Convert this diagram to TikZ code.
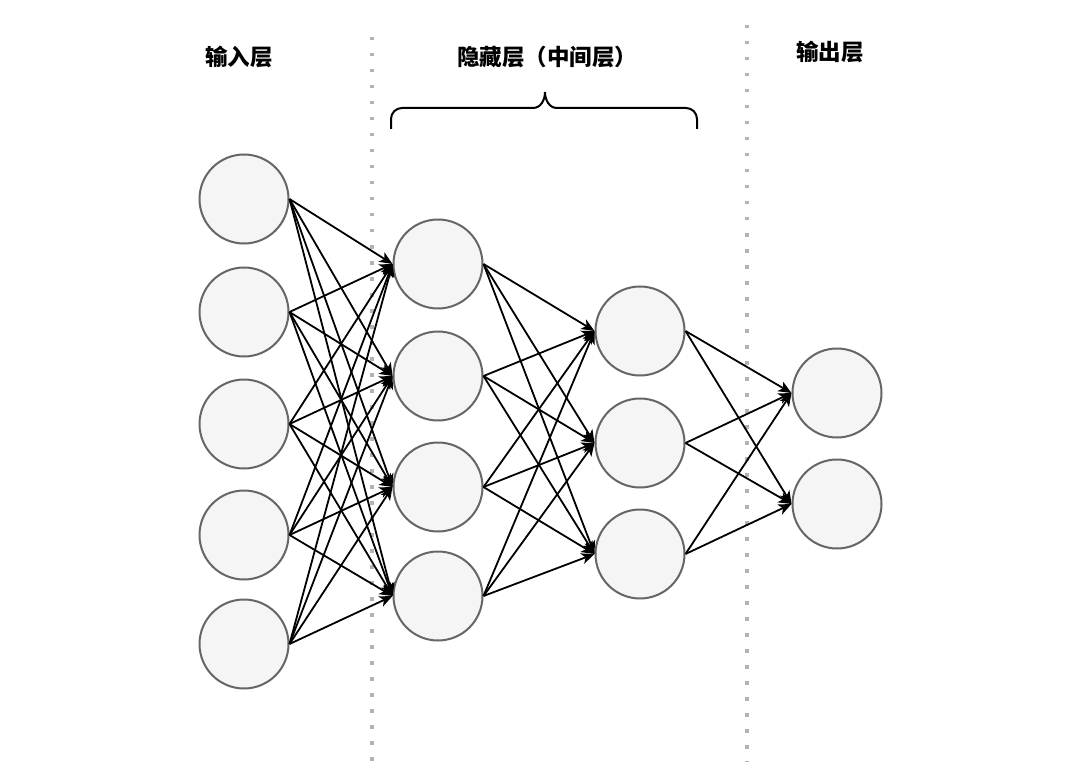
\documentclass[tikz,border=0pt]{standalone}
\usepackage{fontspec}
\newfontfamily\cjk{Noto Sans CJK SC}
\usetikzlibrary{arrows.meta}
\definecolor{nfill}{HTML}{F5F5F5}
\definecolor{nline}{HTML}{666666}
\definecolor{dotc}{HTML}{B3B3B3}
\begin{document}
\begin{tikzpicture}[x=1pt,y=-1pt,
  neuron/.style={circle,draw=nline,fill=nfill,line width=2pt,minimum size=89pt,inner sep=0pt},
  conn/.style={line width=1.8pt,-{Stealth[length=13pt,width=11pt,inset=3.5pt]}},
  sep/.style={dotc,line width=3.5pt,dash pattern=on 3.5pt off 12.5pt},
  title/.style={font=\cjk\bfseries\fontsize{22.5}{26}\selectfont}]
\useasboundingbox (0,0) rectangle (1068,770);
% separators
\coordinate (s1t) at (372,37); \coordinate (s1b) at (372,762);
\coordinate (s2t) at (747,25); \coordinate (s2b) at (747,762);
\draw[sep] (s1t) -- (s1b);
\draw[sep] (s2t) -- (s2b);
% titles
\node[title] (t1) at (239,57) {输入层};
\node[title] (t2) at (547,57) {隐藏层（中间层）};
\node[title] (t3) at (830,52) {输出层};
% brace
\coordinate (bl) at (391,129); \coordinate (br) at (697,129); \coordinate (bm) at (545,92);
\draw[line width=2pt] (bl) -- (391,119) to[out=90,in=180] (402,108) -- (533,108) to[out=0,in=-90] (bm)
  to[out=-90,in=180] (557,108) -- (686,108) to[out=0,in=90] (697,119) -- (br);
% nodes
\foreach \i/\y in {1/199,2/312,3/424,4/535,5/644} \node[neuron] (a\i) at (244,\y) {};
\foreach \i/\y in {1/264,2/376,3/487,4/596} \node[neuron] (b\i) at (438,\y) {};
\foreach \i/\y in {1/331,2/443,3/554} \node[neuron] (c\i) at (640,\y) {};
\foreach \i/\y in {1/393,2/504} \node[neuron] (d\i) at (837,\y) {};
% connections
\foreach \i in {1,...,5} \foreach \j in {1,...,4} \draw[conn] (a\i.east) -- (b\j.west);
\foreach \i in {1,...,4} \foreach \j in {1,...,3} \draw[conn] (b\i.east) -- (c\j.west);
\foreach \i in {1,...,3} \foreach \j in {1,2} \draw[conn] (c\i.east) -- (d\j.west);
\end{tikzpicture}
\end{document}
